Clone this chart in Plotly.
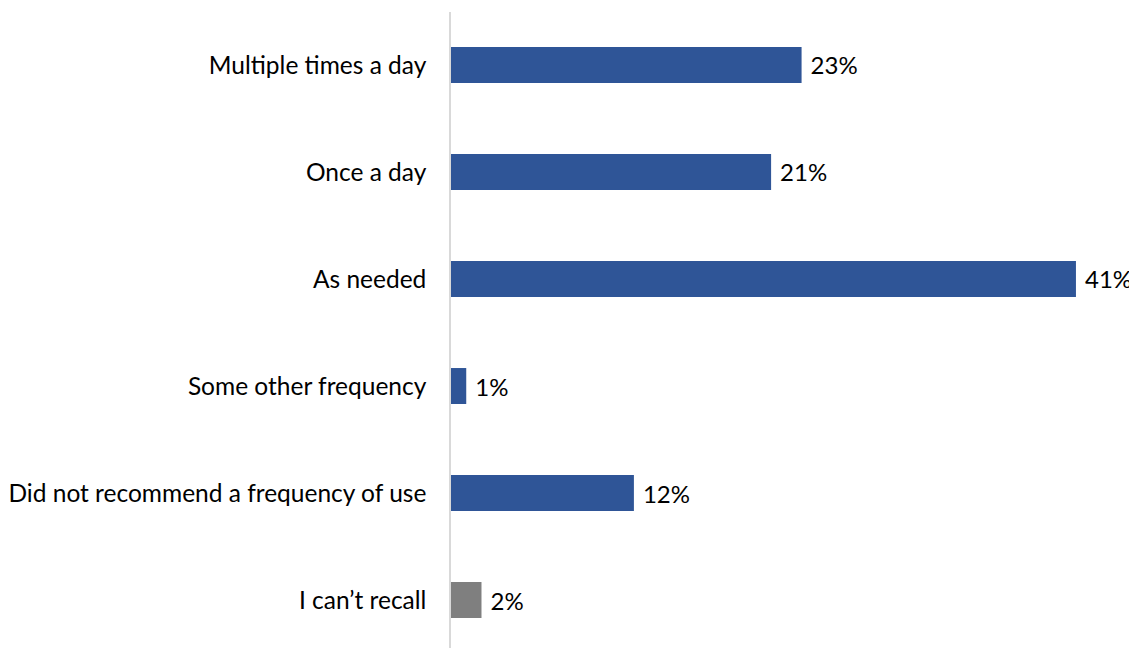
import plotly.graph_objects as go

categories = ["Multiple times a day", "Once a day", "As needed", "Some other frequency",
              "Did not recommend a frequency of use", "I can\u2019t recall"]
values = [23, 21, 41, 1, 12, 2]
colors = ["#2F5597", "#2F5597", "#2F5597", "#2F5597", "#2F5597", "#7F7F7F"]
labels = [f"\u2005{v}%" for v in values]

FONT = "Lato, Carlito, Calibri, sans-serif"

fig = go.Figure(go.Bar(
    y=categories, x=values, orientation="h",
    marker=dict(color=colors, line=dict(width=0)),
    width=0.336,
    text=labels, textposition="outside", cliponaxis=False,
    textfont=dict(family=FONT, size=24, color="#000000"),
))

fig.update_layout(
    width=1137, height=648,
    margin=dict(l=443, r=0, t=4, b=0),
    paper_bgcolor="white", plot_bgcolor="white",
    showlegend=False,
    font=dict(family=FONT, size=24, color="#000000"),
    xaxis=dict(range=[0, 45.53], visible=False, showgrid=False, zeroline=False),
    yaxis=dict(range=[5.523, -0.495], showgrid=False, zeroline=False,
               showline=True, linecolor="#D9D9D9", linewidth=1.5,
               ticks="", ticklabelstandoff=18,
               tickfont=dict(family=FONT, size=24.5, color="#000000")),
)

fig.write_html("out.html")
